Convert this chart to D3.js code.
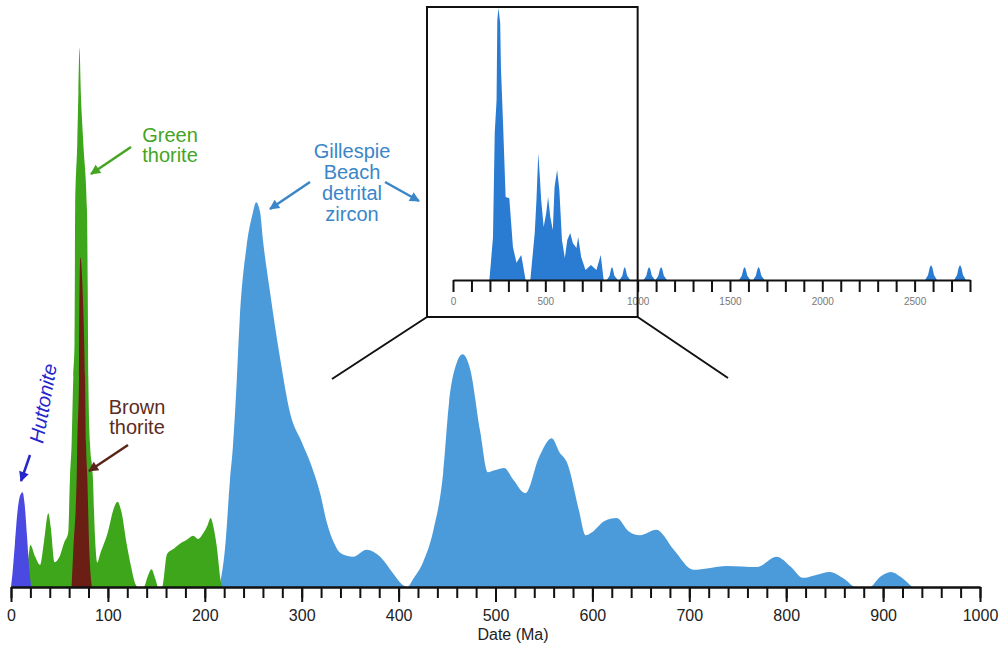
<!DOCTYPE html>
<html><head><meta charset="utf-8">
<script src="https://cdn.jsdelivr.net/npm/d3@7"></script>
<style>
body{margin:0;background:#fff}
svg{display:block}
text{font-family:"Liberation Sans",Arial,Helvetica,sans-serif}
</style>
</head><body>
<svg id="c" width="1002" height="645"></svg>
<script>
// ---- Data: [age (Ma), relative probability] ----
const zirconMain = [
  [215,0],[221,7.4],[226,19.9],[229,26.0],[233,38.4],[236,49.5],[243,63.1],[249,69.0],[253,71.4],[257,69.6],
  [260,64.4],[267,55.1],[278,42.1],[288,32.3],[300,26.9],[309,23.0],[319,17.4],[326,11.9],[333,8.3],[340,6.3],
  [353,5.6],[367,6.9],[381,5.6],[394,2.6],[404,0.4],[409,0],[415,1.5],[425,4.5],[436,10.6],[446,21.2],
  [452,34.1],[460,41.6],[466,43.2],[474,40.3],[484,29.1],[492,21.3],[500,21.7],[509,22.1],[518,20.0],[531,17.4],
  [545,24.1],[558,27.6],[566,25.0],[574,23.0],[586,14.3],[593,9.6],[600,10.2],[612,12.2],[625,12.8],[637,10.4],
  [649,9.6],[666,10.6],[684,6.9],[704,3.2],[720,3.5],[739,3.9],[770,3.7],[790,5.6],[805,3.7],[817,1.7],
  [830,2.2],[845,2.8],[860,1.5],[872,0],[886,0],[897,1.9],[908,2.8],[918,1.9],[930,0]
];
const greenThorite = [
  [14,0],[18,5.6],[20,7.8],[25,5.6],[30,4.1],[34,8.3],[38.5,13.7],[41,11.1],[45,4.6],[50,5.6],
  [55,8.3],[59,10.0],[60.9,20.4],[62.6,26.7],[64.3,39.0],[65.6,45.3],[66.2,70.0],[68.4,82.4],[69.6,92],[70.7,100],
  [72,92],[74.6,82.4],[78.4,70.0],[79.2,55],[79.8,39.0],[81.5,26.7],[84.5,20.4],[86.5,10.0],[89,4.5],[92,6.1],
  [100,10.2],[106,14.5],[110,15.8],[114,13.9],[119.4,8.0],[124,3.7],
  [128,0.7],[131,0],[137,0],[141,1.9],[145,3.3],[149,1.5],[152,0],[156,0],[161,6.1],[168,7.1],
  [174,8.0],[181,8.7],[188,9.5],[193,8.9],[198.5,10.0],[203,11.5],[206,12.8],[209,11.1],[212,8.0],[217,0.7],[219,0]
];
const brownThorite = [
  [62.5,0],[64.3,6.9],[67.8,20.4],[68.4,26.7],[70.2,39.0],[70.5,51.4],[71.5,61.2],[74.6,51.4],[76.4,39.0],
  [77.4,26.7],[78.7,20.4],[80.8,6.9],[83.5,0]
];
const huttonite = [
  [0,0],[1.5,2.5],[4,8.0],[7,14.5],[9.5,17.0],[12,17.6],[14,15.5],[16.5,9.5],[19,3.0],[21,0]
];
const zirconFull = [
  [197,0],[206,7.0],[216.6,15.8],[226,54.0],[236,66.2],[240,95.6],[246,100],[255.6,94.5],[259.5,78.3],[271,57.7],
  [285,30.5],[305,30.1],[324.6,12.1],[344,6.3],[369.6,9.2],[393,0],[418.7,0],[442.6,17.3],[452,29.4],[462,46.7],
  [469,39.3],[477.6,29.4],[491,19.5],[505,24.6],[515,30.5],[527,23.2],[540.6,18.4],[550,34.2],[564,40.4],[576,33.1],
  [590,14.7],[605.6,8.1],[619,14.7],[635,17.3],[649,13.6],[668.5,11.8],[678,15.8],[694,8.5],[717.6,3.7],[747,5.5],
  [776.8,3.7],[800,9.2],[816,0],
  [833,0],[848,1.6],[856,4.0],[861,4.8],[866,4.0],[874,1.6],[893,0],
  [902,0],[917,1.6],[925,4.0],[930,4.8],[935,4.0],[943,1.6],[960,0],
  [1032,0],[1047,1.6],[1056,4.0],[1062,4.8],[1068,4.0],[1077,1.6],[1094,0],
  [1097,0],[1112,1.6],[1121,4.0],[1127,4.8],[1133,4.0],[1142,1.6],[1159,0],
  [1549,0],[1564,1.6],[1573,4.0],[1579,4.8],[1585,4.0],[1594,1.6],[1611,0],
  [1625,0],[1640,1.6],[1649,4.0],[1655,4.8],[1661,4.0],[1670,1.6],[1687,0],
  [2557,0],[2573,1.8],[2582,4.6],[2589,5.5],[2596,4.6],[2605,1.8],[2621,0],
  [2714,0],[2730,1.8],[2739,4.6],[2746,5.5],[2753,4.6],[2762,1.8],[2778,0]
];
const mainTickLabels = [0,100,200,300,400,500,600,700,800,900,1000];
const insetTickLabels = [0,500,1000,1500,2000,2500];

// ---- Drawing ----
const svg = d3.select("#c");
svg.append("rect").attr("width",1002).attr("height",645).attr("fill","#fff");

const x = d3.scaleLinear().domain([0,1000]).range([11,980]);
const y = d3.scaleLinear().domain([0,100]).range([587,48]);
const areaMain = d3.area().x(d=>x(d[0])).y0(y(0)).y1(d=>y(d[1])).curve(d3.curveMonotoneX);

svg.append("path").datum(zirconMain).attr("d",areaMain).attr("fill","#4b9bdb");
svg.append("path").datum(greenThorite).attr("d",areaMain).attr("fill","#3ea61b");
svg.append("path").datum(brownThorite).attr("d",areaMain).attr("fill","#6a1e14");
svg.append("path").datum(huttonite).attr("d",areaMain).attr("fill","#4a4ae2");

// main axis
const minor = d3.range(0,1001,20);
const gMinor = svg.append("g").attr("transform","translate(0,587)")
  .call(d3.axisBottom(x).tickValues(minor).tickSize(11).tickFormat("").tickSizeOuter(0));
const gMajor = svg.append("g").attr("transform","translate(0,587)")
  .call(d3.axisBottom(x).tickValues(mainTickLabels).tickSize(15).tickPadding(8).tickSizeOuter(0)
    .tickFormat(d=>String(d)));
[gMinor,gMajor].forEach(g=>{
  g.selectAll("path.domain").attr("stroke","#111").attr("stroke-width",2);
  g.selectAll(".tick line").attr("stroke","#111").attr("stroke-width",2);
});
gMajor.selectAll(".tick text").attr("font-size",16).attr("fill","#222")
  .attr("font-family","'Liberation Sans',Arial,sans-serif");
svg.append("text").attr("x",513).attr("y",640).attr("text-anchor","middle")
  .attr("font-size",16).attr("fill","#222").text("Date (Ma)");

// inset
const xi = d3.scaleLinear().domain([0,2800]).range([453,970]);
const yi = d3.scaleLinear().domain([0,100]).range([280,8]);
const areaInset = d3.area().x(d=>xi(d[0])).y0(yi(0)).y1(d=>yi(d[1])).curve(d3.curveLinear);
svg.append("path").datum(zirconFull).attr("d",areaInset).attr("fill","#2a7bd2");

const gi = svg.append("g").attr("transform","translate(0,280)")
  .call(d3.axisBottom(xi).tickValues(d3.range(0,2801,100)).tickSize(12).tickPadding(6).tickSizeOuter(0)
    .tickFormat(d=>insetTickLabels.includes(d)?String(d):""));
gi.selectAll("path.domain").attr("stroke","#111").attr("stroke-width",2);
gi.selectAll(".tick line").attr("stroke","#111").attr("stroke-width",2);
gi.selectAll(".tick text").attr("font-size",10).attr("fill","#777")
  .attr("font-family","'Liberation Sans',Arial,sans-serif");

// inset frame and zoom lines
svg.append("rect").attr("x",427).attr("y",7).attr("width",xi(1000)-427).attr("height",310)
  .attr("fill","none").attr("stroke","#111").attr("stroke-width",2);
svg.append("line").attr("x1",427).attr("y1",317).attr("x2",332).attr("y2",379)
  .attr("stroke","#111").attr("stroke-width",2);
svg.append("line").attr("x1",xi(1000)).attr("y1",317).attr("x2",728).attr("y2",378)
  .attr("stroke","#111").attr("stroke-width",2);

// arrows
const defs = svg.append("defs");
function marker(id,color){
  defs.append("marker").attr("id",id).attr("viewBox","0 0 10 10").attr("refX",9).attr("refY",5)
    .attr("markerUnits","userSpaceOnUse").attr("markerWidth",12).attr("markerHeight",10).attr("orient","auto")
    .append("path").attr("d","M0,0 L10,5 L0,10 z").attr("fill",color);
}
const cGreen="#45a523", cBrown="#5a2519", cBlue="#3a86c8", cHut="#2626cc";
marker("mg",cGreen); marker("mb",cBrown); marker("mz",cBlue); marker("mh",cHut);
function arrow(x1,y1,x2,y2,color,m){
  svg.append("line").attr("x1",x1).attr("y1",y1).attr("x2",x2).attr("y2",y2)
    .attr("stroke",color).attr("stroke-width",2.5).attr("marker-end",`url(#${m})`);
}
arrow(131,147,91,174,cGreen,"mg");
arrow(128,445,89,471,cBrown,"mb");
arrow(310,182,270,209,cBlue,"mz");
arrow(385,182,419,201,cBlue,"mz");
arrow(30,455,21,481,cHut,"mh");

// labels
function label(lines,xc,y0,dy,color){
  lines.forEach((t,i)=>svg.append("text").attr("x",xc).attr("y",y0+i*dy).attr("text-anchor","middle")
    .attr("font-size",20).attr("fill",color).text(t));
}
label(["Green","thorite"],170,142,20,cGreen);
label(["Brown","thorite"],137,414,20,"#5c2c22");
label(["Gillespie","Beach","detrital","zircon"],352,158,21,cBlue);
svg.append("text").attr("transform","translate(43,444) rotate(-80)").attr("font-size",20)
  .attr("font-style","italic").attr("fill",cHut).text("Huttonite");
</script>
</body></html>
